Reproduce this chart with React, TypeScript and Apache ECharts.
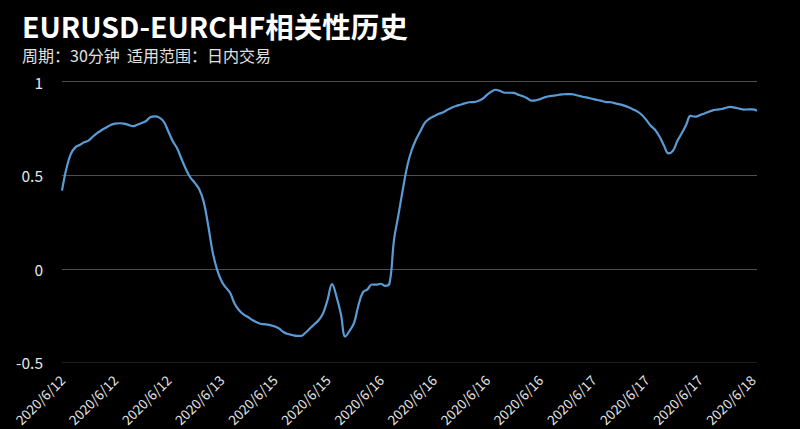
import React, { useEffect, useRef } from "react";
import * as echarts from "echarts";

const titleText = "EURUSD-EURCHF相关性历史";
const subtitleText = "周期：30分钟  适用范围：日内交易";

const tickLabels = [
  "2020/6/12", "2020/6/12", "2020/6/12", "2020/6/13", "2020/6/15", "2020/6/15", "2020/6/16",
  "2020/6/16", "2020/6/16", "2020/6/16", "2020/6/17", "2020/6/17", "2020/6/17", "2020/6/18",
];

const yTicks = [-0.5, 0, 0.5, 1];

const correlation = [
  0.418, 0.536, 0.614, 0.649, 0.662, 0.676, 0.685, 0.707, 0.726, 0.742,
  0.755, 0.769, 0.776, 0.778, 0.776, 0.769, 0.762, 0.770, 0.779, 0.790,
  0.811, 0.815, 0.808, 0.786, 0.735, 0.683, 0.644, 0.587, 0.532, 0.488,
  0.459, 0.425, 0.359, 0.235, 0.093, -0.002, -0.064, -0.100, -0.130, -0.187,
  -0.222, -0.244, -0.258, -0.274, -0.286, -0.295, -0.297, -0.301, -0.308, -0.319,
  -0.338, -0.349, -0.354, -0.359, -0.359, -0.342, -0.319, -0.297, -0.274, -0.237,
  -0.165, -0.082, -0.148, -0.242, -0.362, -0.330, -0.288, -0.192, -0.125, -0.110,
  -0.084, -0.085, -0.080, -0.091, -0.077, 0.155, 0.288, 0.425, 0.550, 0.635,
  0.692, 0.738, 0.781, 0.802, 0.815, 0.827, 0.835, 0.849, 0.861, 0.870,
  0.877, 0.884, 0.890, 0.891, 0.897, 0.909, 0.929, 0.947, 0.957, 0.950,
  0.941, 0.941, 0.940, 0.931, 0.923, 0.913, 0.899, 0.900, 0.907, 0.916,
  0.922, 0.925, 0.929, 0.932, 0.934, 0.934, 0.929, 0.923, 0.918, 0.913,
  0.907, 0.902, 0.897, 0.891, 0.890, 0.884, 0.879, 0.872, 0.863, 0.852,
  0.840, 0.822, 0.795, 0.765, 0.742, 0.706, 0.658, 0.617, 0.630, 0.683,
  0.724, 0.770, 0.817, 0.813, 0.820, 0.829, 0.838, 0.847, 0.851, 0.854,
  0.861, 0.865, 0.861, 0.856, 0.851, 0.852, 0.852, 0.845,
];

const LABEL_EVERY = 12;
const categories = correlation.map(
  (_, i) => tickLabels[Math.min(tickLabels.length - 1, Math.floor(i / LABEL_EVERY))]
);

const FONT = "'Noto Sans CJK SC', 'Noto Sans', sans-serif";

export default function App() {
  const ref = useRef<HTMLDivElement>(null);

  useEffect(() => {
    if (!ref.current) return;
    const chart = echarts.init(ref.current, null, { renderer: "svg" });
    chart.setOption({
      animation: false,
      backgroundColor: "#000000",
      textStyle: { fontFamily: FONT },
      title: [
        {
          text: titleText,
          left: 22,
          top: 10,
          padding: 0,
          textStyle: { color: "#ffffff", fontSize: 28.5, fontWeight: "bold", fontFamily: FONT, lineHeight: 30 },
        },
        {
          text: subtitleText,
          left: 22,
          top: 45.5,
          padding: 0,
          textStyle: { color: "#e0e0e0", fontSize: 16, fontWeight: "normal", fontFamily: FONT, lineHeight: 18 },
        },
      ],
      grid: { left: 62, right: 43, top: 81.7, bottom: 66.7, containLabel: false },
      xAxis: {
        type: "category",
        data: categories,
        boundaryGap: false,
        axisLine: { show: false },
        axisTick: { show: false },
        splitLine: { show: false },
        axisLabel: {
          interval: LABEL_EVERY - 1,
          rotate: 45,
          margin: 15,
          color: "#e6e6e6",
          fontSize: 13.5,
          fontFamily: FONT,
        },
      },
      yAxis: {
        type: "value",
        min: yTicks[0],
        max: yTicks[yTicks.length - 1],
        interval: 0.5,
        axisLine: { show: false },
        axisTick: { show: false },
        axisLabel: { color: "#e6e6e6", fontSize: 15.5, margin: 19, fontFamily: FONT },
        splitLine: {
          show: true,
          lineStyle: { color: ["#1c1c1c", "#4f4f4f", "#4f4f4f", "#4f4f4f"], width: 1 },
        },
      },
      series: [
        {
          type: "line",
          data: correlation,
          showSymbol: false,
          smooth: 0.4,
          lineStyle: { color: "#5b9bd5", width: 2.2 },
          itemStyle: { color: "#5b9bd5" },
        },
      ],
    });
    return () => chart.dispose();
  }, []);

  return (
    <div
      ref={ref}
      style={{ position: "fixed", left: 0, top: 0, width: 800, height: 429 }}
    />
  );
}
